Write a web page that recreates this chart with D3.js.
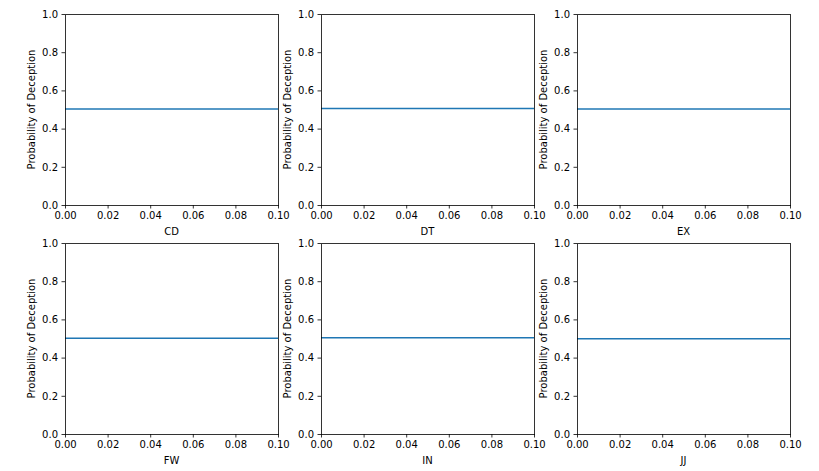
<!DOCTYPE html>
<html>
<head>
<meta charset="utf-8">
<style>
  body { margin: 0; background: #fff; }
  svg { display: block; }
  text { font-family: "DejaVu Sans", sans-serif; }
</style>
</head>
<body>
<svg id="chart" width="819" height="471"></svg>
<script src="https://cdn.jsdelivr.net/npm/d3@7"></script>
<script>

// panel names (x labels) and the flat probability in each one
var panels = ["CD", "DT", "EX", "FW", "IN", "JJ"];
var xValues = [0.0, 0.1];
var probs = [0.502, 0.505, 0.502, 0.501, 0.504, 0.499];
var xTicks = [0.00, 0.02, 0.04, 0.06, 0.08, 0.10];
var yTicks = [0.0, 0.2, 0.4, 0.6, 0.8, 1.0];

var svg = d3.select("#chart"),
    cols = 3,
    marginL = 65, marginT = 14,
    w = 213, h = 191,
    colStep = 256, rowStep = 229;

var x = d3.scaleLinear().domain([0, 0.1]).range([0, w]);
var y = d3.scaleLinear().domain([0, 1]).range([h, 0]);

var line = d3.line()
    .x(function(d) { return x(d.x); })
    .y(function(d) { return y(d.y); });

function styleAxis(a) {
  a.select(".domain").remove();
  a.selectAll(".tick line").attr("stroke", "#000").attr("stroke-width", 0.8);
  a.selectAll(".tick text").attr("fill", "#000").style("font-size", "10px")
      .style("font-family", "DejaVu Sans, sans-serif");
}

panels.forEach(function(name, i) {
  var r = Math.floor(i / cols), c = i % cols;
  var g = svg.append("g")
      .attr("transform", "translate(" + (marginL + c * colStep) + "," + (marginT + r * rowStep) + ")");

  var data = xValues.map(function(v) { return {x: v, y: probs[i]}; });

  g.append("path")
      .datum(data)
      .attr("fill", "none")
      .attr("stroke", "#1f77b4")
      .attr("stroke-width", 1.5)
      .attr("d", line);

  var xa = g.append("g")
      .attr("transform", "translate(0," + h + ")")
      .call(d3.axisBottom(x).tickValues(xTicks).tickFormat(d3.format(".2f"))
        .tickSizeInner(3.5).tickPadding(3.5));
  styleAxis(xa);

  var ya = g.append("g")
      .call(d3.axisLeft(y).tickValues(yTicks).tickFormat(d3.format(".1f"))
        .tickSizeInner(3.5).tickPadding(3.5));
  styleAxis(ya);

  // frame
  g.append("rect")
      .attr("width", w).attr("height", h)
      .attr("fill", "none")
      .attr("stroke", "#000")
      .attr("stroke-width", 0.8)
      .attr("shape-rendering", "crispEdges");

  g.append("text")
      .attr("x", w / 2)
      .attr("y", h + 30)
      .attr("text-anchor", "middle")
      .style("font-size", "10px")
      .text(name);

  g.append("text")
      .attr("transform", "rotate(-90)")
      .attr("x", -h / 2)
      .attr("y", -30)
      .attr("text-anchor", "middle")
      .style("font-size", "10px")
      .text("Probability of Deception");
});

// next row starts below the visible area, only the top of its labels shows
for (var c = 0; c < cols; c++) {
  var ya3 = svg.append("g")
      .attr("transform", "translate(" + (marginL + c * colStep) + "," + (marginT + 2 * rowStep + 3) + ")")
      .call(d3.axisLeft(y).tickValues(yTicks).tickFormat(d3.format(".1f"))
        .tickSizeInner(3.5).tickPadding(3.5));
  styleAxis(ya3);
}

</script>
</body>
</html>
